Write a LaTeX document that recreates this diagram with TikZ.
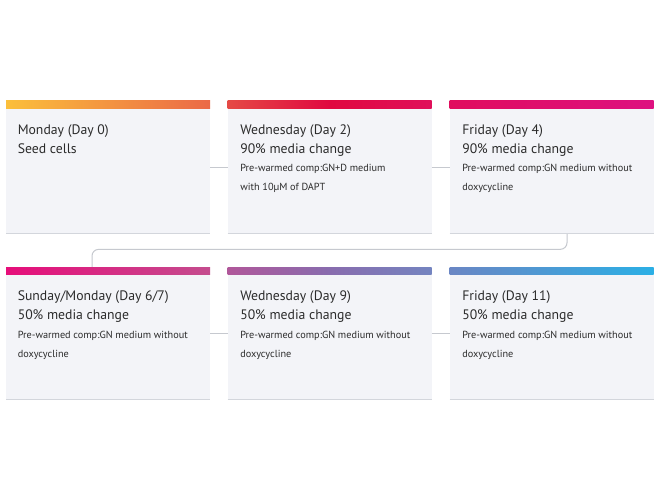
\documentclass[tikz,border=0pt]{standalone}
\usepackage{fontspec}
\setmainfont{PT Sans}
\usetikzlibrary{positioning}

\definecolor{cardbg}{HTML}{F3F4F8}
\definecolor{cardline}{HTML}{D3D6DC}
\definecolor{linkgray}{HTML}{C6C9CF}
\definecolor{textgray}{HTML}{2B2B2B}
% header bar stops
\definecolor{monA}{HTML}{FBBF3B}
\definecolor{monB}{HTML}{EB6947}
\definecolor{wedA}{HTML}{E54A45}
\definecolor{wedM}{HTML}{E00840}
\definecolor{wedB}{HTML}{E0105A}
\definecolor{friA}{HTML}{E00D5E}
\definecolor{friB}{HTML}{DE1180}
\definecolor{sunA}{HTML}{E60E7A}
\definecolor{sunB}{HTML}{C44C8E}
\definecolor{wedbA}{HTML}{B0579A}
\definecolor{wedbM}{HTML}{886CAE}
\definecolor{wedbB}{HTML}{7484C0}
\definecolor{fribA}{HTML}{6A86C4}
\definecolor{fribB}{HTML}{2BAFE5}

\tikzset{
  card/.style={minimum width=153pt, minimum height=99.5pt, fill=cardbg, inner sep=0pt, outer sep=0pt},
  link/.style={draw=linkgray, line width=0.75pt},
  cardtext/.style={anchor=north west, align=left, inner sep=0pt, text=textgray,
    font=\fontsize{10.3}{14.1}\selectfont},
}
\newcommand{\smalltxt}[1]{{\fontsize{7.7}{14.1}\selectfont #1}}
\newcommand{\cardhead}[3]{%
  \shade[left color=#2, right color=#3] (#1.north west) rectangle ([shift={(0,7.5)}]#1.north east);
  \draw[cardline, line width=0.75pt] (#1.south west) -- (#1.south east);}

\begin{document}
\begin{tikzpicture}[x=0.75pt,y=-0.75pt]
        \fill[white] (0,0) rectangle (659,492);
        \useasboundingbox (0,0) rectangle (659,492);
        
        % cards, first row
        \node[card] (d0) at (108,167) {};
        \node[card] (d2) at (329.5,167) {};
        \node[card] (d4) at (551.5,167) {};
        % cards, second row
        \node[card] (d6) at (108,333.5) {};
        \node[card] (d9) at (329.5,333.5) {};
        \node[card] (d11) at (551.5,333.5) {};
        
        % connectors
        \draw[link] (d0.east) -- (d2.west);
        \draw[link] (d2.east) -- (d4.west);
        \draw[link] (d6.east) -- (d9.west);
        \draw[link] (d9.east) -- (d11.west);
        \draw[link, rounded corners=5pt] ([shift={(15.5,0)}]d4.south) -- ++(0,16) -| ([shift={(-16,0)}]d6.north);
        
        % header bars
        \cardhead{d0}{monA}{monB}
        \shade[left color=wedA, right color=wedB, middle color=wedM] (d2.north west) rectangle ([shift={(0,7.5)}]d2.north east);
        \draw[cardline, line width=0.75pt] (d2.south west) -- (d2.south east);
        \cardhead{d4}{friA}{friB}
        \cardhead{d6}{sunA}{sunB}
        \shade[left color=wedbA, right color=wedbB, middle color=wedbM] (d9.north west) rectangle ([shift={(0,7.5)}]d9.north east);
        \draw[cardline, line width=0.75pt] (d9.south west) -- (d9.south east);
        \cardhead{d11}{fribA}{fribB}
        
        % texts
        \node[cardtext] (t0) at ([shift={(11.5,23.5)}]d0.north west) {Monday (Day 0)\\Seed cells};
        \node[cardtext] (t2) at ([shift={(12.5,23.5)}]d2.north west) {Wednesday (Day 2)\\90\% media change\\\smalltxt{Pre-warmed comp:GN+D medium}\\\smalltxt{with 10µM of DAPT}};
        \node[cardtext] (t4) at ([shift={(12.5,23.5)}]d4.north west) {Friday (Day 4)\\90\% media change\\\smalltxt{Pre-warmed comp:GN medium without}\\\smalltxt{doxycycline}};
        \node[cardtext] (t6) at ([shift={(11.5,23.5)}]d6.north west) {Sunday/Monday (Day 6/7)\\50\% media change\\\smalltxt{Pre-warmed comp:GN medium without}\\\smalltxt{doxycycline}};
        \node[cardtext] (t9) at ([shift={(12.5,23.5)}]d9.north west) {Wednesday (Day 9)\\50\% media change\\\smalltxt{Pre-warmed comp:GN medium without}\\\smalltxt{doxycycline}};
        \node[cardtext] (t11) at ([shift={(12.5,23.5)}]d11.north west) {Friday (Day 11)\\50\% media change\\\smalltxt{Pre-warmed comp:GN medium without}\\\smalltxt{doxycycline}};
        
\end{tikzpicture}
\end{document}
